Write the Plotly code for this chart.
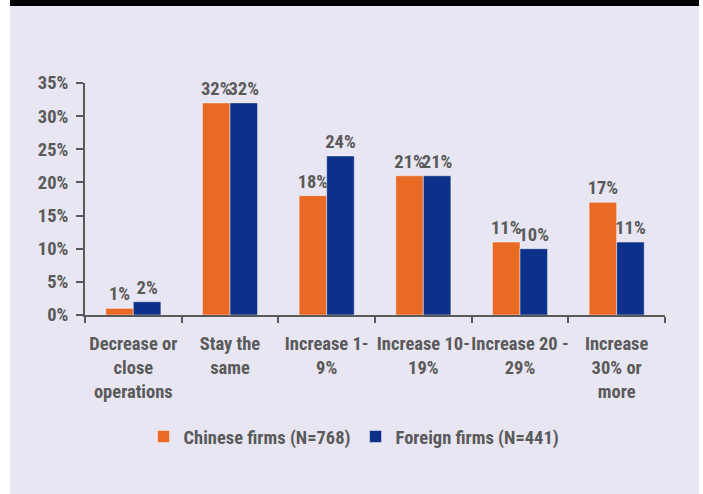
import plotly.graph_objects as go

categories = ["Decrease or<br>close<br>operations", "Stay the<br>same", "Increase 1-<br>9%",
              "Increase 10-<br>19%", "Increase 20 -<br>29%", "Increase<br>30% or<br>more"]
chinese = [1, 32, 18, 21, 11, 17]
foreign = [2, 32, 24, 21, 10, 11]
series_names = ["Chinese firms (N=768)", "Foreign firms (N=441)"]
y_ticks = [0, 5, 10, 15, 20, 25, 30, 35]
y_tick_labels = ["0%", "5%", "10%", "15%", "20%", "25%", "30%", "35%"]

FONT = "Roboto Condensed, Liberation Sans Narrow, Arial Narrow, DejaVu Sans Condensed, sans-serif"
GRAY = "#5a5a5a"
ORANGE = "#e86a24"
BLUE = "#0d318a"
LAV = "#e7e6f2"
FS = 18.5

fig = go.Figure()
for name, vals, col in [(series_names[0], chinese, ORANGE), (series_names[1], foreign, BLUE)]:
    fig.add_trace(go.Bar(
        x=categories, y=vals, name=name,
        marker=dict(color=col, line=dict(color="rgba(255,255,255,0.45)", width=1)),
        text=[f"{v}%" for v in vals], textposition="outside", constraintext="none",
        cliponaxis=False,
        textfont=dict(family=FONT, size=FS, color=GRAY, weight="bold"),
    ))

# plot area spans pixels x 85..665, y 83..315
W, H = 580.0, 232.0
def px(x):
    return (x - 85) / W
def py(y):
    return (315 - y) / H

fig.update_layout(
    width=703, height=494,
    margin=dict(l=85, r=38, t=83, b=179, autoexpand=False),
    paper_bgcolor="white", plot_bgcolor="rgba(0,0,0,0)",
    barmode="group", bargap=0.43, bargroupgap=0,
    font=dict(family=FONT, size=FS, color=GRAY, weight="bold"),
    showlegend=True,
    legend=dict(orientation="h", xref="container", yref="container",
                x=354 / 703, xanchor="center", y=1 - 437 / 494, yanchor="middle",
                bgcolor="rgba(0,0,0,0)", font=dict(family=FONT, size=FS, color=GRAY, weight="bold"),
                itemwidth=30, traceorder="normal"),
    shapes=[
        dict(type="rect", xref="paper", yref="paper", x0=px(10), x1=px(699), y0=py(500), y1=py(6),
             fillcolor=LAV, line=dict(width=0), layer="below"),
        dict(type="rect", xref="paper", yref="paper", x0=px(10), x1=px(699), y0=py(6), y1=py(0),
             fillcolor="black", line=dict(width=0), layer="below"),
    ],
)
fig.update_yaxes(range=[0, 35], tickvals=y_ticks, ticktext=y_tick_labels, automargin=False,
                 showgrid=False, zeroline=False, showline=True, linecolor=GRAY, linewidth=2,
                 ticks="outside", ticklen=7, tickcolor=GRAY, tickwidth=1.5,
                 tickfont=dict(family=FONT, size=FS, color=GRAY, weight="bold"),
                 ticklabelstandoff=4)
fig.update_xaxes(showgrid=False, showline=True, linecolor=GRAY, linewidth=2, automargin=False,
                 tickangle=0,
                 ticks="outside", tickson="boundaries", ticklen=6, tickcolor=GRAY, tickwidth=1.5,
                 tickfont=dict(family=FONT, size=FS, color=GRAY, weight="bold"),
                 ticklabelstandoff=11)

fig.write_html("out.html", config={"displayModeBar": False},
               post_script="document.body.style.margin='0';document.body.style.overflow='hidden';")
